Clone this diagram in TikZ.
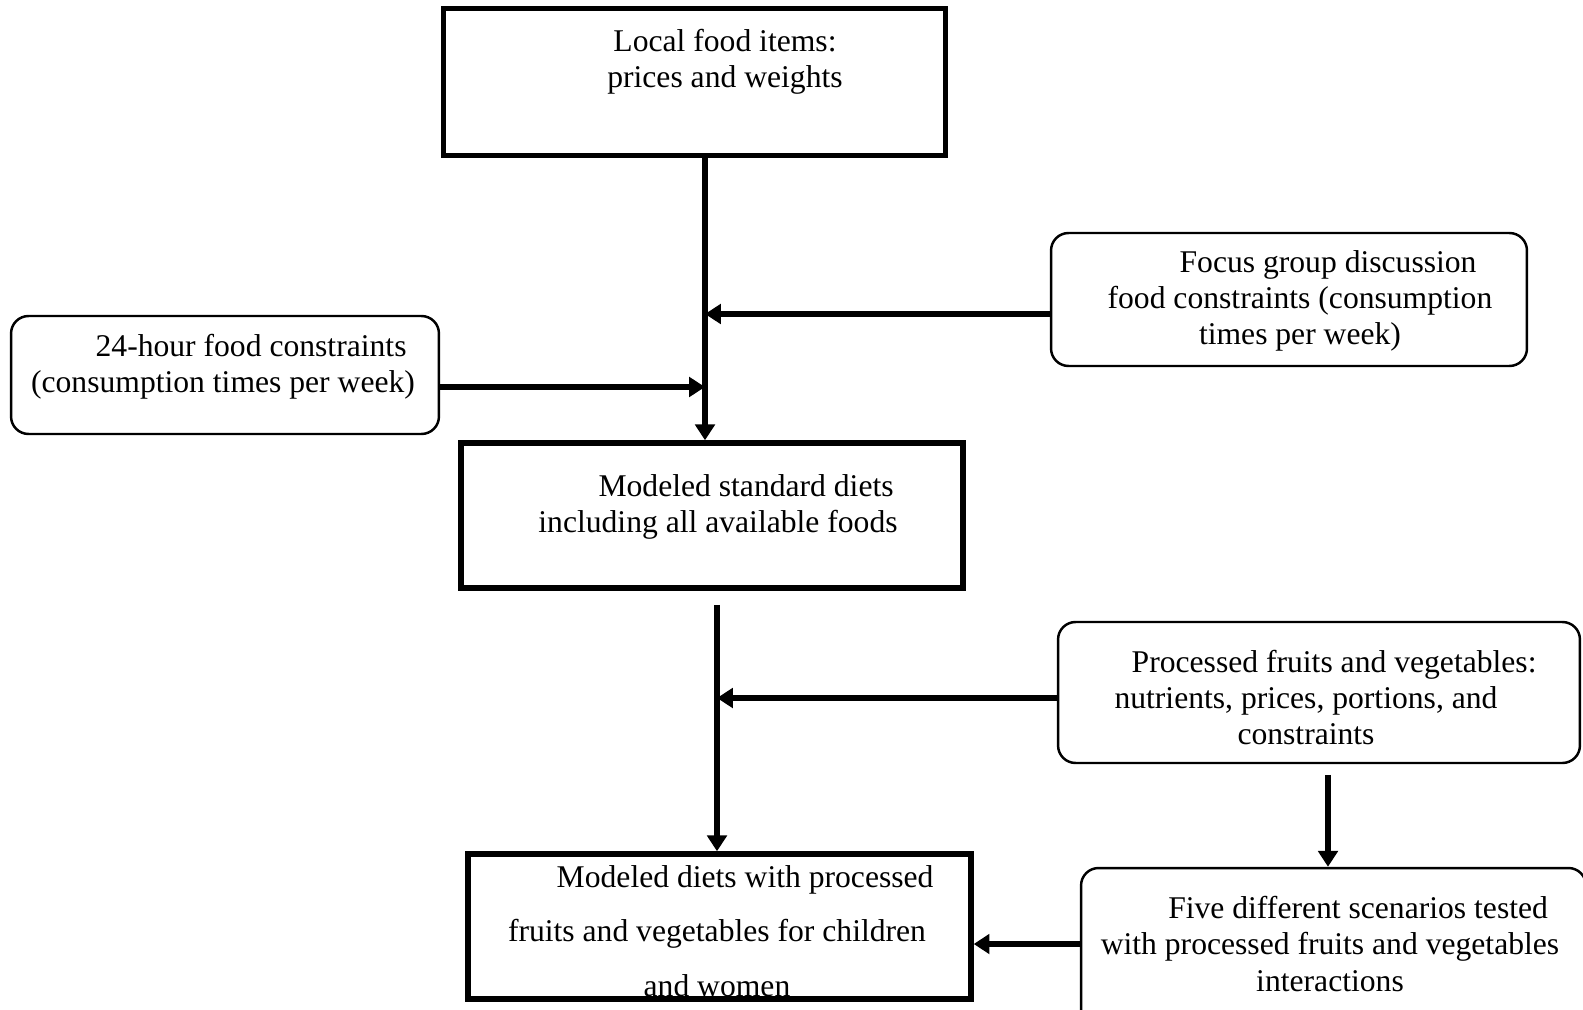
\documentclass[tikz,border=0pt]{standalone}
\usepackage{fontspec}
\setmainfont{Liberation Serif}
\usetikzlibrary{arrows.meta}

\begin{document}
\begin{tikzpicture}[
    x=0.02cm, y=-0.02cm,
    sqbox/.style={rectangle, draw, line width=3.1pt, inner sep=0pt},
    rbox/.style={rectangle, draw, line width=1.4pt, rounded corners=0.35cm, inner sep=0pt},
    txt/.style={align=center, inner sep=0pt, font=\fontsize{18}{20.7}\selectfont},
    arrow/.style={-{Triangle[length=9pt,width=11pt]}, line width=3.4pt}
]
\clip (0,0) rectangle (1583,1010);

% boxes
\node[sqbox, minimum width=10.04cm, minimum height=2.94cm] (top) at (694.5,82) {};
\node[rbox, minimum width=9.52cm, minimum height=2.66cm] (focus) at (1289,299.5) {};
\node[rbox, minimum width=8.56cm, minimum height=2.36cm] (hour) at (225,375) {};
\node[sqbox, minimum width=10.04cm, minimum height=2.9cm] (std) at (712,515.5) {};
\node[rbox, minimum width=10.44cm, minimum height=2.82cm] (proc) at (1319,692.5) {};
\node[rbox, minimum width=10.1cm, minimum height=3.24cm] (five) at (1333.5,949) {};
\node[sqbox, minimum width=10.06cm, minimum height=2.9cm] (bottom) at (719.5,926.5) {};

% texts
\node[txt] (toptxt) at (725,61.5) {Local food items:\\prices and weights};
\node[txt] (focustxt) at (1300,301) {\hspace*{32pt}Focus group discussion\\food constraints (consumption\\times per week)};
\node[txt] (hourtxt) at (223,366.5) {\hspace*{32pt}24-hour food constraints\\(consumption times per week)};
\node[txt] (stdtxt) at (718,507) {\hspace*{32pt}Modeled standard diets\\including all available foods};
\node[txt] (proctxt) at (1306,697.5) {\hspace*{32pt}Processed fruits and vegetables:\\nutrients, prices, portions, and\\constraints};
\node[txt] (fivetxt) at (1330,944) {\hspace*{32pt}Five different scenarios tested\\with processed fruits and vegetables\\interactions};
\node[txt, font=\fontsize{18}{31}\selectfont] (bottomtxt) at (717,931) {\hspace*{32pt}Modeled diets with processed\\fruits and vegetables for children\\and women};

% spines
\coordinate (spineA) at (705,0);
\coordinate (spineB) at (717,0);

% arrows
\draw[arrow] (top.south -| spineA) -- (std.north -| spineA);
\draw[arrow] ([yshift=-0.29cm]focus.west) -- ([yshift=-0.29cm]focus.west -| spineA);
\draw[arrow] ([yshift=-0.24cm]hour.east) -- ([yshift=-0.24cm]hour.east -| spineA);
\draw[arrow, shorten <=8pt] (std.south -| spineB) -- (bottom.north -| spineB);
\draw[arrow] ([yshift=-0.11cm]proc.west) -- ([yshift=-0.11cm]proc.west -| spineB);
\draw[arrow, shorten <=6pt] ([xshift=0.18cm]proc.south) -- ([xshift=0.18cm]proc.south |- five.north);
\draw[arrow] ([yshift=0.1cm]five.west) -- ([yshift=0.1cm]five.west -| bottom.east);
\end{tikzpicture}
\end{document}
